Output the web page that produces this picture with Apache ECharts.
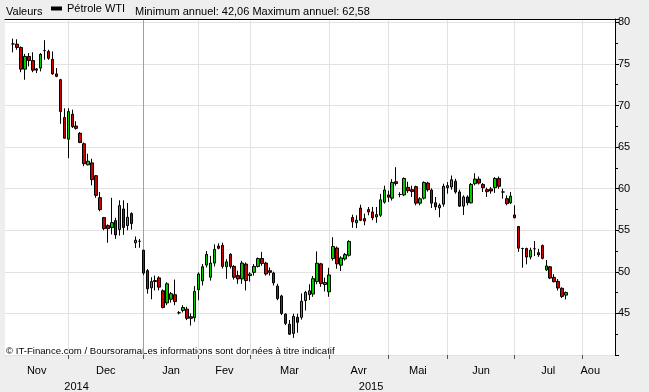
<!DOCTYPE html>
<html><head><meta charset="utf-8">
<script src="https://cdn.jsdelivr.net/npm/echarts@6/dist/echarts.min.js"></script>
<style>html,body{margin:0;padding:0;background:#eeeeee}#c{width:649px;height:392px}</style>
</head><body><div id="c"></div>
<script>
// Daily candles, Pétrole WTI (one entry per trading day, in order)
const opens = [
77.4,77.37,76.98,74.37,75.9,75.4,74.4,74.5,76.6,76.5,75.55,73.8,73.1,68.56,65.95,68.95,67.53,66.66,65.4,62.87,
63.1,61.56,58.92,56.52,55.56,55.32,56.16,55.08,57.56,55.56,57.0,53.5,53.67,
52.6,50.14,48.08,48.95,49.27,47.73,46.26,46.7,47.25,45.08,45.36,45.51,44.6,44.49,47.85,48.91,50.81,49.35,51.05,53.1,
53.18,50.61,52.11,50.65,49.55,49.15,50.93,49.55,49.94,50.65,51.6,51.05,50.14,49.86,48.28,47.1,44.92,43.7,
42.6,44.53,44.53,46.54,47.25,47.33,48.83,50.96,48.47,47.6,51.6,52.86,50.8,51.55,51.99,56.53,55.9,57.67,56.4,57.48,
57.2,56.6,56.8,58.38,59.25,58.86,60.83,59.3,59.25,60.16,59.88,60.24,58.26,58.86,60.67,59.84,58.3,
57.7,58.14,60.12,60.2,60.9,59.6,57.9,59.0,58.3,60.6,61.15,60.51,59.88,59.96,60.12,61.23,59.6,58.8,58.3,56.84,
55.45,52.8,52.8,51.78,52.77,52.3,53.16,50.24,50.6,49.33,48.85,48.02,47.2
];
const closes = [
77.4,76.98,74.37,75.9,75.4,74.25,74.25,76.15,76.6,75.67,73.8,73.5,69.27,66.07,69.27,67.45,67.25,65.55,63.0,63.3,
61.09,59.2,57.48,55.2,55.2,55.92,54.44,57.96,55.32,56.56,55.8,53.8,53.67,
49.85,47.96,48.83,48.83,48.16,45.71,48.56,47.37,46.42,45.08,45.71,44.41,44.41,47.65,49.74,50.61,52.11,51.05,52.7,52.83,
50.65,51.2,50.65,49.35,49.15,51.05,48.95,49.74,50.65,51.6,51.0,49.74,49.94,48.68,46.78,45.0,43.8,42.5,
44.64,43.93,46.46,47.53,47.72,49.18,51.04,48.59,48.71,49.62,53.05,50.96,51.67,52.07,53.65,56.01,56.2,56.2,56.1,57.2,
56.49,56.88,58.66,59.84,58.97,60.75,60.63,59.3,61.23,59.76,59.65,58.26,58.78,60.75,59.88,58.26,57.83,
58.0,60.28,60.36,61.07,59.6,57.9,59.0,58.3,60.51,61.15,60.67,60.12,59.64,59.72,61.23,60.28,59.6,58.2,59.1,56.5,
52.85,52.8,51.78,52.6,52.77,52.05,51.62,50.71,49.25,48.81,48.06,47.04,47.51
];
const lows = [
76.4,76.7,74.0,73.1,74.7,74.0,73.9,74.1,75.5,75.5,73.7,73.4,67.8,66.03,63.66,67.3,67.1,65.47,62.7,62.8,
60.4,58.9,57.28,55.0,53.5,54.5,53.96,54.36,54.44,55.0,55.08,52.86,52.9,
49.6,47.37,46.7,47.77,47.77,45.6,45.99,46.3,45.99,44.88,45.12,44.2,43.54,44.0,46.58,48.36,50.53,48.95,50.65,52.7,
50.4,49.15,50.4,49.07,48.56,48.56,47.77,48.83,49.55,50.53,50.73,49.55,49.55,48.36,46.58,44.8,43.6,42.43,
42.06,42.67,44.25,45.35,46.6,47.0,48.51,48.2,47.65,47.0,51.36,50.37,50.1,51.36,51.83,55.3,55.25,56.1,55.6,56.8,
56.2,55.9,56.6,58.2,58.4,58.58,60.36,58.97,59.1,59.5,59.0,58.0,58.0,58.7,59.65,57.67,57.43,
56.56,57.83,59.4,59.88,59.4,57.83,56.84,58.0,58.22,60.4,60.5,59.6,59.0,59.4,59.49,60.0,58.8,58.0,58.14,56.44,
52.4,50.5,50.9,51.5,51.9,51.8,51.5,50.1,49.13,48.74,47.75,46.84,46.68
];
const highs = [
78.04,77.96,77.1,76.2,76.3,76.4,74.5,76.3,77.85,76.7,76.5,74.5,73.2,69.66,69.66,69.5,68.1,66.8,65.55,64.2,
63.6,61.64,59.6,56.6,55.7,58.9,56.5,58.6,58.6,58.28,57.16,54.25,53.95,
52.65,50.34,49.35,49.55,49.47,47.89,48.75,47.57,49.07,45.28,45.99,45.8,45.0,48.28,49.94,50.93,52.5,51.92,53.3,53.42,
53.5,51.52,52.23,50.8,50.14,51.32,51.13,49.94,50.93,51.72,52.4,51.2,50.53,50.02,48.56,47.25,45.0,44.2,
44.96,44.96,47.4,47.72,48.5,49.5,52.46,51.08,49.3,50.49,54.16,53.05,51.87,52.26,53.8,56.88,56.8,58.07,57.0,57.8,
57.8,57.8,59.37,60.36,59.76,61.15,62.58,59.57,61.35,60.83,60.36,60.36,58.97,60.87,60.83,60.04,59.0,
58.22,60.6,60.79,61.58,61.19,59.88,59.2,59.2,60.67,61.86,61.46,60.67,60.12,60.2,61.38,61.46,60.0,59.2,59.6,58.0,
55.5,52.9,52.9,52.9,53.7,52.77,53.28,51.42,50.71,49.72,49.13,48.14,47.63
];
// index (trading day) of the first trading day of each month (Dec .. Aou)
const monthStarts = [14,33,47,60,80,95,110,127,144];
const monthNames = ['Nov','Dec','Jan','Fev','Mar','Avr','Mai','Jun','Jul','Aou'];
const years = ['2014','2015'];
const yearStartMonth = 'Jan';
const seriesName = 'Pétrole WTI';
const yearMin = 42.06, yearMax = 62.58;
const lastValue = closes[closes.length - 1];
const yTicks = [45,50,55,60,65,70,75,80];

// axis extent in trading-day units (includes empty future days)
const xMin = -2.03, xMax = 152.4, periodEnd = 148.3;
const fmt = v => v.toFixed(2).replace('.', ',');
const candles = opens.map((o, i) => [i, o, closes[i], lows[i], highs[i]]);
const bounds = [xMin].concat(monthStarts, [periodEnd]);
const monthMids = monthNames.map((m, i) => (bounds[i] + bounds[i + 1]) / 2);
const yearBoundary = monthStarts[monthNames.indexOf(yearStartMonth) - 1];
const yearMids = [(xMin + yearBoundary) / 2 + 0.6, (yearBoundary + periodEnd) / 2];
const splitColors = monthStarts.map((s, i) => monthNames[i + 1] === yearStartMonth ? '#a0a0a0' : '#e2e2e2');
const FONT = 'Liberation Sans';
const pick = (arr, labels) => v => labels[arr.findIndex(m => Math.abs(m - v) < 1e-6)];

const chart = echarts.init(document.getElementById('c'), null, {renderer: 'canvas'});
chart.setOption({
  animation: false,
  backgroundColor: '#eeeeee',
  textStyle: {fontFamily: FONT},
  grid: {left: 5, right: 34, top: 19, bottom: 32, show: true, backgroundColor: '#ffffff', borderWidth: 0},
  legend: {
    left: 51, top: 3, itemWidth: 11, itemHeight: 4, itemGap: 4, padding: 0,
    textStyle: {fontSize: 11, color: '#000', fontFamily: FONT, padding: [2, 0, 0, 0]},
    data: [{name: seriesName, icon: 'rect', itemStyle: {color: '#000', borderWidth: 0}}]
  },
  graphic: [
    {type: 'text', left: 6, top: 6, style: {text: 'Valeurs', font: '11px ' + FONT, fill: '#000'}},
    {type: 'text', left: 135, top: 6, style: {text: 'Minimum annuel: ' + fmt(yearMin) + ' Maximum annuel: ' + fmt(yearMax), font: '11px ' + FONT, fill: '#000'}},
    {type: 'text', left: 6, top: 346, style: {text: '© IT-Finance.com / BoursoramaLes informations sont données à titre indicatif', font: '9.6px ' + FONT, fill: '#000'}}
  ],
  xAxis: [
    {
      type: 'value', min: xMin, max: xMax, position: 'bottom',
      axisLine: {show: false, onZero: false},
      axisTick: {show: true, customValues: monthStarts, length: 4, lineStyle: {color: '#555'}},
      axisLabel: {customValues: monthMids, formatter: pick(monthMids, monthNames), fontSize: 11, color: '#000', margin: 10},
      splitLine: {show: true, lineStyle: {color: splitColors, width: 1}}
    },
    {
      type: 'value', min: xMin, max: xMax, position: 'bottom', offset: 16,
      axisLine: {show: false, onZero: false}, axisTick: {show: false}, splitLine: {show: false},
      axisLabel: {customValues: yearMids, formatter: pick(yearMids, years), fontSize: 11, color: '#000', margin: 10}
    },
    {
      type: 'value', min: xMin, max: xMax, position: 'top',
      axisLine: {show: true, onZero: false, lineStyle: {color: '#000', width: 1}}, axisTick: {show: false}, axisLabel: {show: false}, splitLine: {show: false}
    }
  ],
  yAxis: {
    type: 'value', position: 'right', min: 40, max: 80.4, interval: 5,
    axisLine: {show: true, onZero: false, lineStyle: {color: '#000'}},
    axisTick: {show: true, length: 4, inside: false, lineStyle: {color: '#000'}},
    minorTick: {show: true, splitNumber: 2, length: 3, lineStyle: {color: '#000'}},
    axisLabel: {fontSize: 11, color: '#000', margin: 3, formatter: v => yTicks.includes(v) ? String(v) : ''},
    splitLine: {show: true, lineStyle: {color: '#e2e2e2'}}
  },
  series: [{
    name: seriesName, type: 'candlestick', xAxisIndex: 0, yAxisIndex: 0,
    barWidth: 3,
    data: candles,
    itemStyle: {color: '#00cc00', color0: '#cc0000', borderColor: '#000', borderColor0: '#000', borderColorDoji: '#000', borderWidth: 1},
    markLine: {
      silent: true, symbol: ['none', 'none'],
      lineStyle: {opacity: 0},
      data: [{yAxis: lastValue}],
      label: {position: 'end', distance: 1, formatter: fmt(lastValue), backgroundColor: '#ffcc00', borderColor: '#000', borderWidth: 1, padding: [3, 2, 1, 2], color: '#000', fontSize: 11, fontFamily: FONT}
    }
  }]
});
</script></body></html>
